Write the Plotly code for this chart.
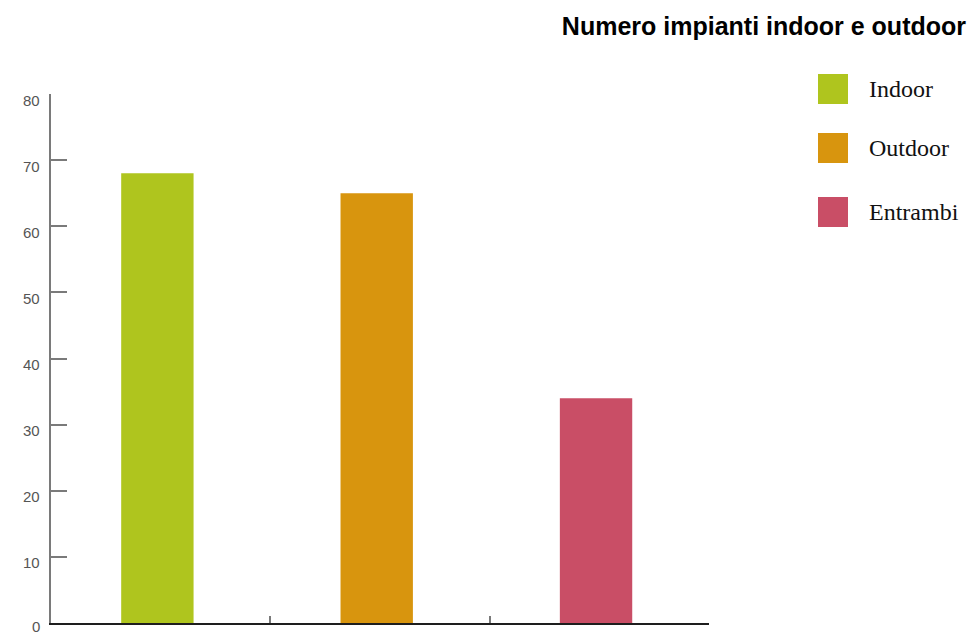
import plotly.graph_objects as go

# Number of installations by type
categories = ["Indoor", "Outdoor", "Entrambi"]
values = [68, 65, 34]
colors = ["#AFC51E", "#D8950E", "#C94E66"]
title_text = "Numero impianti indoor e outdoor"
y_ticks = [0, 10, 20, 30, 40, 50, 60, 70, 80]

W, H = 970, 636
ML, MR, MT, MB = 51, 261, 94, 13
PW, PH = W - ML - MR, H - MT - MB


def px_x(px):
    return (px - ML) / PW


def px_y(py):
    return (H - MB - py) / PH


fig = go.Figure()
for cat, val, col in zip(categories, values, colors):
    fig.add_trace(go.Bar(
        x=[cat], y=[val], name=cat, width=0.33, offset=-0.18,
        marker=dict(color=col, line=dict(width=0)),
        showlegend=False, hoverinfo="x+y",
    ))

shapes = []
annotations = []

# Y tick labels sit a little below their tick marks (the lowest one is
# kept inside the page)
for t in y_ticks:
    annotations.append(dict(
        text=str(t), xref="paper", yref="y",
        x=px_x(41), y=t, yshift=-6 if t > min(y_ticks) else -3,
        xanchor="right", yanchor="middle", showarrow=False,
        borderpad=0,
        font=dict(family="Liberation Sans", size=15, color="#555555"),
    ))

# Hand-drawn legend: large colour squares with serif labels
legend_centers = [89, 148, 212]
for cat, col, cy in zip(categories, colors, legend_centers):
    shapes.append(dict(
        type="rect", xref="paper", yref="paper",
        x0=px_x(818), x1=px_x(848), y0=px_y(cy + 15), y1=px_y(cy - 15),
        fillcolor=col, line=dict(width=0),
    ))
    annotations.append(dict(
        text=cat, xref="paper", yref="paper",
        x=px_x(867), y=px_y(cy), xanchor="left", yanchor="middle",
        showarrow=False,
        font=dict(family="Liberation Serif", size=24, color="#111111"),
    ))

fig.update_layout(
    width=W, height=H,
    margin=dict(l=ML, r=MR, t=MT, b=MB),
    paper_bgcolor="white", plot_bgcolor="white",
    barmode="overlay",
    title=dict(
        text=f"<b>{title_text}</b>",
        xref="container", yref="container",
        x=966 / W, xanchor="right",
        y=1 - 26 / H, yanchor="middle",
        font=dict(family="Liberation Sans", size=25, color="#000000"),
    ),
    xaxis=dict(
        type="category", categoryorder="array", categoryarray=categories,
        range=[-0.5, 2.5], showticklabels=False,
        tickson="boundaries", ticks="inside", ticklen=7,
        tickcolor="#7a7a7a", tickwidth=1.5,
        showline=True, linecolor="#1e1e1e", linewidth=2,
        showgrid=False, zeroline=False,
    ),
    yaxis=dict(
        range=[0, 80], tickvals=y_ticks, showticklabels=False,
        ticks="inside", ticklen=16, tickcolor="#7a7a7a", tickwidth=1.5,
        showline=True, linecolor="#7a7a7a", linewidth=1.5,
        showgrid=False, zeroline=False,
    ),
    shapes=shapes,
    annotations=annotations,
)

fig.write_html("out.html")
